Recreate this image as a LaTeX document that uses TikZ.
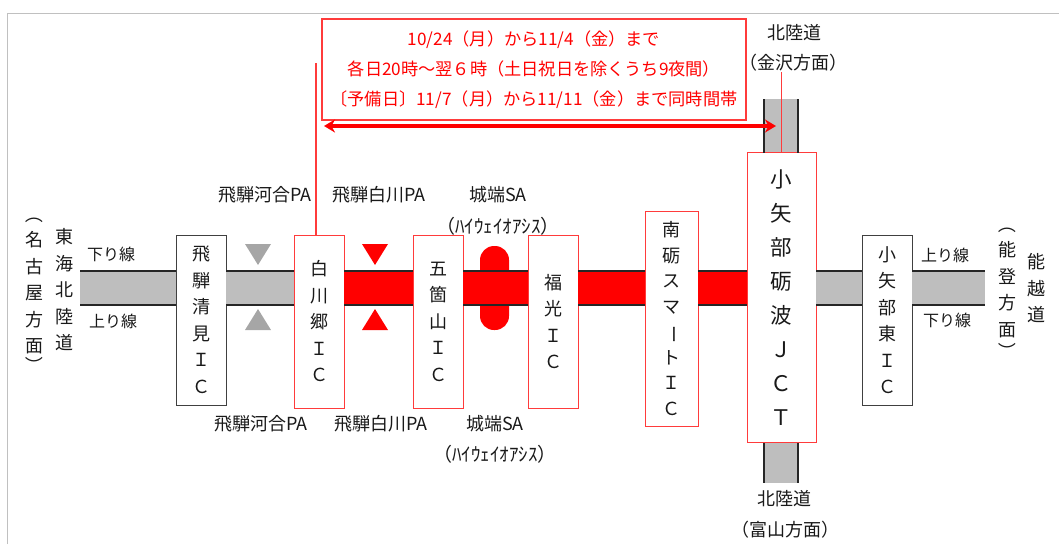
\documentclass[tikz,border=0pt]{standalone}
\usepackage{fontspec}
\setmainfont{Noto Sans CJK JP}
\usetikzlibrary{arrows.meta}

\definecolor{roadgray}{HTML}{BEBEBE}
\definecolor{pagray}{HTML}{A6A6A6}
\definecolor{framegray}{HTML}{C0C0C0}
\definecolor{boxgray}{HTML}{404040}
\definecolor{boxred}{HTML}{FF3B3B}

\newcommand{\tatemono}[1]{\rotatebox[origin=c]{-90}{#1}}

\tikzset{
	labeltext/.style={font=\fontsize{18}{20}\selectfont, text=black!90, inner sep=0pt},
	linetext/.style={labeltext, font=\fontsize{16}{20}\selectfont},
	stacktext/.style={align=center, inner sep=0pt, text=black!90, font=\fontsize{18}{26.5}\selectfont},
	icblack/.style={draw=boxgray, thick, fill=white, minimum width=50pt, align=center, inner sep=0pt, text=black!90, font=\fontsize{18}{26.5}\selectfont, execute at begin node={\rule{0pt}{21pt}}},
	icred/.style={icblack, draw=boxred},
	roadplain/.style={draw=roadgray, line width=34pt},
	roadclosed/.style={draw=red, line width=34pt},
	roadedge/.style={draw=black!85, line width=1.3pt},
	noteline/.style={draw=boxred, line width=1.1pt}
}

\begin{document}
\begin{tikzpicture}[x=1pt, y=-1pt]
\useasboundingbox (0,0) rectangle (1059,544);

\draw[framegray, line width=1pt] (7.5,544) -- (7.5,13.5) -- (1059,13.5);

% interchanges
\node[icblack, minimum height=170pt] (hida) at (201,320) {飛\\騨\\清\\見\\Ｉ\\Ｃ};
\node[icred, minimum height=173pt] (shirakawa) at (319,321.5) {白\\川\\郷\\Ｉ\\Ｃ};
\node[icred, minimum height=173pt] (gokayama) at (438,321.5) {五\\箇\\山\\Ｉ\\Ｃ};
\node[icred, minimum height=173pt] (fukumitsu) at (553,321.5) {福\\光\\Ｉ\\Ｃ};
\node[icred, minimum width=53pt, minimum height=215pt, font=\fontsize{18}{25.5}\selectfont] (nanto) at (671.5,318.5) {南\\砺\\ス\\マ\\\tatemono{ー}\\ト\\Ｉ\\Ｃ};
\node[icred, minimum width=69pt, minimum height=290pt, font=\fontsize{21.5}{34}\selectfont, execute at begin node={}] (jct) at (781.5,297.5) {小\\矢\\部\\砺\\波\\Ｊ\\Ｃ\\Ｔ};
\node[icblack, minimum height=170pt] (higashi) at (887,320) {小\\矢\\部\\東\\Ｉ\\Ｃ};

% road ends
\coordinate (roadwest) at (80,288);
\coordinate (roadeast) at (985,288);
\coordinate (roadnorth) at (781,99);
\coordinate (roadsouth) at (781,483);
\coordinate (edgeup) at (0,271);
\coordinate (edgedn) at (0,305);

% SA mark goes under the road
\node[fill=red, minimum width=29pt, minimum height=84pt, rounded corners=14pt, inner sep=0pt] (sa) at (494.5,288) {};

\draw[roadplain] (roadwest) -- (roadwest -| hida.west);
\draw[roadplain] (roadwest -| hida.east) -- (roadwest -| shirakawa.west);
\draw[roadclosed] (roadwest -| shirakawa.east) -- (roadwest -| gokayama.west);
\draw[roadclosed] (roadwest -| gokayama.east) -- (roadwest -| fukumitsu.west);
\draw[roadclosed] (roadwest -| fukumitsu.east) -- (roadwest -| nanto.west);
\draw[roadclosed] (roadwest -| nanto.east) -- (roadwest -| jct.west);
\draw[roadplain] (roadwest -| jct.east) -- (roadwest -| higashi.west);
\draw[roadplain] (roadwest -| higashi.east) -- (roadeast);
\draw[roadplain] (roadnorth) -- (roadnorth |- jct.north);
\draw[roadplain] (roadsouth |- jct.south) -- (roadsouth);

% road edges
\foreach \e in {edgeup, edgedn} {
	\draw[roadedge] (roadwest |- \e) -- (hida.west |- \e);
	\draw[roadedge] (hida.east |- \e) -- (shirakawa.west |- \e);
	\draw[roadedge] (shirakawa.east |- \e) -- (gokayama.west |- \e);
	\draw[roadedge] (gokayama.east |- \e) -- (fukumitsu.west |- \e);
	\draw[roadedge] (fukumitsu.east |- \e) -- (nanto.west |- \e);
	\draw[roadedge] (nanto.east |- \e) -- (jct.west |- \e);
	\draw[roadedge] (jct.east |- \e) -- (higashi.west |- \e);
	\draw[roadedge] (higashi.east |- \e) -- (roadeast |- \e);
}
\foreach \i in {764, 798} {
	\draw[roadedge] (\i,99) -- (\i,153);
	\draw[roadedge] (\i,443) -- (\i,483);
}

% PA marks
\foreach \i/\c in {258/pagray, 375/red} {
	\fill[\c] (\i-13,244) -- (\i+13,244) -- (\i,265) -- cycle;
	\fill[\c] (\i-13,330) -- (\i+13,330) -- (\i,309) -- cycle;
}

% notice
\node[draw=boxred, line width=1.1pt, fill=white, minimum width=424pt, minimum height=101pt, align=center, inner sep=0pt, text=red, font=\fontsize{17.2}{29.7}\selectfont, execute at begin node={\rule{0pt}{23pt}}] (notice) at (534,69.5)
	{10/24（月）から11/4（金）まで\\各日20時～翌６時（土日祝日を除くうち9夜間）\\〔予備日〕11/7（月）から11/11（金）まで同時間帯};

\coordinate (closedwest) at (324,126);
\coordinate (closedeast) at (776,126);
\coordinate (linetop) at (316,63);
\coordinate (jcttop) at (781.5,72);
\draw[noteline] (linetop) -- (linetop |- shirakawa.north);
\draw[noteline] (jcttop) -- (jct.north);
\draw[red, line width=4pt, {Stealth[length=11pt,width=13pt]}-{Stealth[length=11pt,width=13pt]}] (closedwest) -- (closedeast);

% labels
\node[stacktext] (tokai) at (64,290) {東\\海\\北\\陸\\道};
\node[stacktext] (nagoya) at (34,290) {\tatemono{（}\\[-1pt]名\\古\\屋\\方\\面\\[-7pt]\tatemono{）}};
\node[stacktext] (noetsu) at (1036,288.5) {能\\越\\道};
\node[stacktext] (noto) at (1007,288) {\tatemono{（}\\[-1pt]能\\登\\方\\面\\[-4pt]\tatemono{）}};

\node[linetext] (kudariw) at (111,254) {下り線};
\node[linetext] (noboriw) at (113,321) {上り線};
\node[linetext] (nobori) at (945,255) {上り線};
\node[linetext] (kudari) at (947,320) {下り線};

\node[labeltext] (kawaiup) at (265,195) {飛騨河合PA};
\node[labeltext] (kawaidn) at (261,424) {飛騨河合PA};
\node[labeltext] (hakuup) at (379,195) {飛騨白川PA};
\node[labeltext] (hakudn) at (381,424) {飛騨白川PA};
\node[labeltext] (saup) at (498,195) {城端SA};
\node[labeltext] (sadn) at (495,424) {城端SA};
\node[labeltext, font=\fontsize{19}{20}\selectfont] (oasisup) at (498,226) {（ﾊｲｳｪｲｵｱｼｽ）};
\node[labeltext, font=\fontsize{19}{20}\selectfont] (oasisdn) at (495,454) {（ﾊｲｳｪｲｵｱｼｽ）};

\node[labeltext] (hokuup) at (794,33) {北陸道};
\node[labeltext] (kanazawa) at (793,63) {（金沢方面）};
\node[labeltext] (hokudn) at (784,499) {北陸道};
\node[labeltext] (toyama) at (785,530) {（富山方面）};

\end{tikzpicture}
\end{document}
